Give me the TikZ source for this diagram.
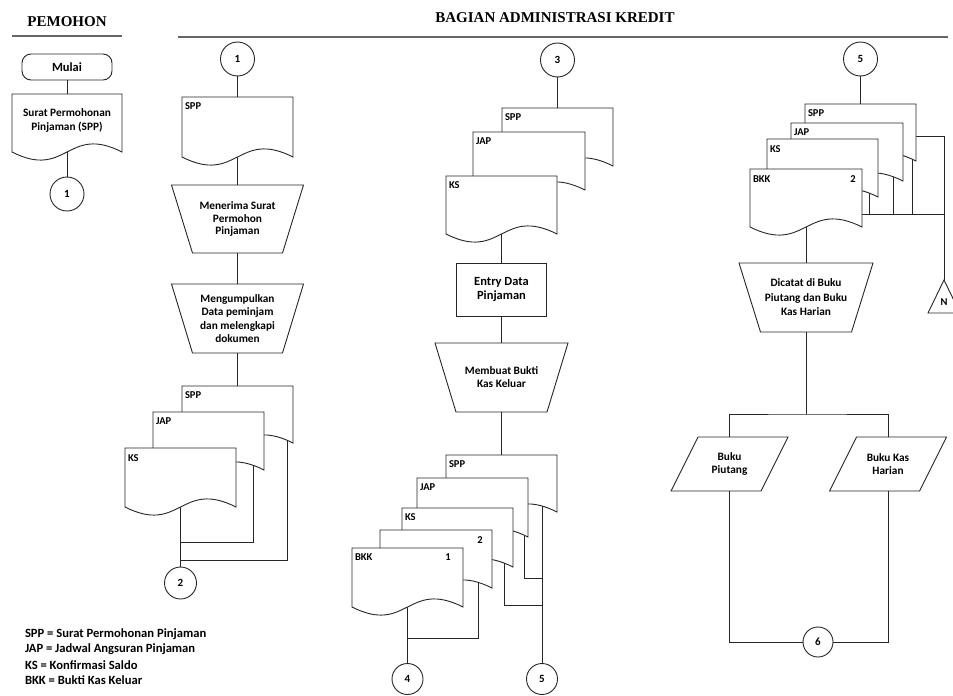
\documentclass[tikz,border=0pt]{standalone}
\usepackage{fontspec}
\setmainfont{Carlito}
\newfontfamily\headfont{Liberation Serif}
\usetikzlibrary{calc}

\tikzset{
  flowline/.style={draw=black!85, line width=0.9pt},
  headline/.style={draw=black!60, line width=1.6pt},
  headtext/.style={font=\headfont\bfseries\fontsize{15}{17}\selectfont},
  boxtext/.style={font=\bfseries\fontsize{11.3}{14.5}\selectfont, align=center, text=black},
  doclabel/.style={font=\bfseries\fontsize{10.5}{12}\selectfont, anchor=west, text=black},
  docnum/.style={font=\bfseries\fontsize{10.5}{12}\selectfont, text=black},
  docbox/.style={shape=rectangle, draw=none, inner sep=0pt, outer sep=0pt},
  connector/.style={flowline, circle, fill=white, font=\bfseries\fontsize{11}{12}\selectfont, minimum size=#1},
  connector/.default=34pt,
  legendtext/.style={font=\bfseries\fontsize{12.6}{14}\selectfont, anchor=west, text=black},
}

% document symbol: name, left, top, right, bottom of the sides
\def\wavek{28}
\newcommand\flowdoc[5]{%
  \node[docbox, minimum width={(#4)-(#2)}, minimum height={(#5)-(#3)}] (#1) at ({((#2)+(#4))/2},{((#3)+(#5))/2}) {};
  \draw[flowline, fill=white] (#1.north west) -- (#1.north east) -- (#1.south east)
    .. controls ($(#1.south)+(0,-\wavek)$) and ($(#1.south)+(0,\wavek)$) .. (#1.south west) -- cycle;}

% manual operation: [style] name, centre x, top, bottom, top width, bottom width, text
\newcommand\manopshape[8][]{%
  \node[boxtext, #1, inner sep=0pt, minimum width={#6}, minimum height={(#5)-(#4)}] (#2) at (#3,{((#4)+(#5))/2}) {#8};
  \draw[flowline] (#2.north west) -- (#2.north east)
    -- ($(#2.south east)+({-((#6)-(#7))/2},0)$) -- ($(#2.south west)+({((#6)-(#7))/2},0)$) -- cycle;}

% data symbol: name, centre x, centre y, text
\newcommand\dataio[4]{%
  \node[boxtext, inner sep=0pt, minimum width=90pt, minimum height=54pt,
        font=\bfseries\fontsize{11.3}{13.5}\selectfont] (#1) at (#2,#3) {#4};
  \draw[flowline] ($(#1.north west)+(13.5,0)$) -- ($(#1.north east)+(13.5,0)$)
    -- ($(#1.south east)+(-13.5,0)$) -- ($(#1.south west)+(-13.5,0)$) -- cycle;}

\begin{document}
\begin{tikzpicture}[x=1pt, y=-1pt, every node/.append style={inner sep=0pt, outer sep=0pt}]
\fill[white] (0,0) rectangle (953,696);
\useasboundingbox (0,0) rectangle (953,696);

% ---------- headings ----------
\node[headtext] (hPem) at (67,22) {PEMOHON};
\node[headtext] (hBag) at (555,18) {BAGIAN ADMINISTRASI KREDIT};
\draw[headline] (12,36) -- (122,36);
\draw[headline] (178,37) -- (948,37);

% ---------- Pemohon ----------
\node[flowline, rectangle, rounded corners=9pt, minimum width=90pt, minimum height=26pt,
      font=\bfseries\fontsize{12.5}{14}\selectfont] (mulai) at (67,67) {Mulai};
\node[connector] (p1) at (67,194) {1};
\draw[flowline] (mulai) -- (67,94);
\draw[flowline] (67,140) -- (p1);
\flowdoc{sppP}{12}{94}{122}{152}
\node[boxtext] (sppPtxt) at (67,120.5) {Surat Permohonan\\Pinjaman (SPP)};

% ---------- column 1 ----------
\node[connector] (c1) at (237.5,59) {1};
\manopshape[font=\bfseries\fontsize{11.3}{12.6}\selectfont]{terima}{237.5}{185}{253}{132}{90}{Menerima Surat\\Permohon\\Pinjaman}
\manopshape[font=\bfseries\fontsize{11.3}{13.2}\selectfont]{kumpul}{237.5}{284}{353}{132}{90}{Mengumpulkan\\Data peminjam\\dan melengkapi\\dokumen}
\node[connector=32pt] (c2) at (180.5,583) {2};
\coordinate (j1a) at (180.5,542);
\coordinate (j1b) at (180.5,560);
\coordinate (s1jap) at (253,441);
\coordinate (s1spp) at (287,414);

\draw[flowline] (c1) -- (237.5,97);
\draw[flowline] (237.5,130) -- (terima.north);
\draw[flowline] (terima.south) -- (kumpul.north);
\draw[flowline] (kumpul.south) -- (237.5,386);
\draw[flowline] (180.5,480) -- (c2);
\draw[flowline] (s1jap) |- (j1a);
\draw[flowline] (s1spp) |- (j1b);

\flowdoc{sppA}{182}{97}{293}{157}
\node[doclabel] (sppAl) at (185,106) {SPP};
\flowdoc{spp1}{182}{386}{293}{443}
\node[doclabel] (spp1l) at (185,395) {SPP};
\flowdoc{jap1}{153}{412}{264}{470}
\node[doclabel] (jap1l) at (156,421) {JAP};
\flowdoc{ks1}{125}{448}{236}{507}
\node[doclabel] (ks1l) at (128,458) {KS};

% ---------- column 3 ----------
\node[connector] (c3) at (557.5,60) {3};
\node[flowline, rectangle, minimum width=90pt, minimum height=53pt,
      font=\bfseries\fontsize{12.5}{14.5}\selectfont, align=center] (entry) at (501.5,289.5) {Entry Data\\Pinjaman};
\manopshape[font=\bfseries\fontsize{11.3}{13}\selectfont]{bukti}{501.5}{343}{412}{133}{91}{Membuat Bukti\\Kas Keluar}
\node[connector=31pt] (c4) at (407.5,679) {4};
\node[connector=31pt] (c5b) at (542,679) {5};
\coordinate (j3a) at (407.5,638);
\coordinate (j3b) at (542,605);
\coordinate (j3c) at (542,578);
\coordinate (s3two) at (478,560);
\coordinate (s3ks) at (504,537);
\coordinate (s3jap) at (524,507);
\coordinate (s3spp) at (542,483);

\draw[flowline] (c3) -- (557.5,108);
\draw[flowline] (501.5,205) -- (entry.north);
\draw[flowline] (entry.south) -- (bukti.north);
\draw[flowline] (bukti.south) -- (501.5,455);
\draw[flowline] (407.5,580) -- (c4);
\draw[flowline] (s3spp) -- (c5b);
\draw[flowline] (s3two) |- (j3a);
\draw[flowline] (s3ks) |- (j3b);
\draw[flowline] (s3jap) |- (j3c);

\flowdoc{spp3}{502}{108}{613}{166}
\node[doclabel] (spp3l) at (505,117) {SPP};
\flowdoc{jap3}{473}{132}{585}{190}
\node[doclabel] (jap3l) at (476,141) {JAP};
\flowdoc{ks3}{446}{176}{557}{234}
\node[doclabel] (ks3l) at (449,185) {KS};

\flowdoc{spp3b}{446}{455}{557}{512}
\node[doclabel] (spp3bl) at (449,464) {SPP};
\flowdoc{jap3b}{417}{478}{528}{537}
\node[doclabel] (jap3bl) at (420,487) {JAP};
\flowdoc{ks3b}{402}{508}{513}{567}
\node[doclabel] (ks3bl) at (405,517) {KS};
\flowdoc{two3b}{380}{530}{492}{588}
\node[docnum] (two3bl) at (480,540) {2};
\flowdoc{bkk3b}{352}{548}{463}{607}
\node[doclabel] (bkk3bl) at (355,557) {BKK};
\node[docnum] (one3bl) at (448,557) {1};

% ---------- column 5 ----------
\node[connector] (c5) at (860.5,59) {5};
\manopshape[font=\bfseries\fontsize{11.3}{14.5}\selectfont]{catat}{806}{263}{332}{134}{91}{Dicatat di Buku\\Piutang dan Buku\\Kas Harian}
\dataio{piutang}{729.5}{464}{Buku\\Piutang}
\dataio{kasharian}{888}{464}{Buku Kas\\Harian}
\node[connector=30pt] (c6) at (818,642) {6};
\coordinate (split) at (806,414);
\coordinate (w5) at (862,214);
\coordinate (e5) at (944,214);
\coordinate (triapex) at (944,280);
\coordinate (s5ks) at (869,168);
\coordinate (s5jap) at (893,152);
\coordinate (s5spp) at (912,132.5);
\coordinate (r5spp) at (880,136);

\draw[flowline] (c5) -- (860.5,104);
\draw[flowline] (806,200) -- (catat.north);
\draw[flowline] (catat.south) -- (split);
\draw[flowline] (piutang.north) |- (split) -| (kasharian.north);
\draw[flowline] (piutang.south) |- (c6) -| (kasharian.south);
\draw[flowline] (w5) -- (e5);
\draw[flowline] (s5ks) -- (s5ks |- e5);
\draw[flowline] (s5jap) -- (s5jap |- e5);
\draw[flowline] (s5spp) -- (s5spp |- e5);
\draw[flowline] (r5spp) -| (triapex);

\flowdoc{spp5}{805}{104}{916}{161}
\node[doclabel] (spp5l) at (808,113) {SPP};
\flowdoc{jap5}{791}{123}{903}{181}
\node[doclabel] (jap5l) at (794,132) {JAP};
\flowdoc{ks5}{767}{139}{878}{197}
\node[doclabel] (ks5l) at (770,149) {KS};
\flowdoc{bkk5}{750}{169}{862}{227}
\node[doclabel] (bkk5l) at (753,179) {BKK};
\node[docnum] (two5l) at (853,179) {2};

% archive
\draw[flowline, fill=white] (triapex) -- (928,313) -- (960,313) -- cycle;
\node[docnum] (arsip) at (944,302) {N};

% ---------- legend ----------
\node[legendtext] (lg1) at (25,634) {SPP = Surat Permohonan Pinjaman};
\node[legendtext] (lg2) at (25,649.5) {JAP = Jadwal Angsuran Pinjaman};
\node[legendtext] (lg3) at (25,665) {KS = Konfirmasi Saldo};
\node[legendtext] (lg4) at (25,680.5) {BKK = Bukti Kas Keluar};
\end{tikzpicture}
\end{document}
